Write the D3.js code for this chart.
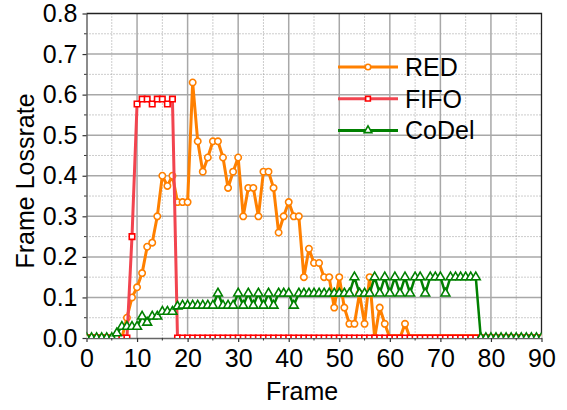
<!DOCTYPE html>
<html lang="en">
<head>
	<meta charset="UTF-8">
	<title>Frame Lossrate</title>
	<script src="https://cdnjs.cloudflare.com/ajax/libs/d3/7.8.5/d3.min.js"></script>
	<style>
		body { margin: 0; background: #fff; }
		text { font-family: "Liberation Sans", Arial, sans-serif; fill: #000; }
	</style>
</head>
<body>
	<svg id="chart"></svg>
	<script>
// frame index 0..90
var frames = d3.range(0, 91)

var redLoss = [
  0, 0, 0, 0, 0, 0, 0, 0, 0.05, 0.10,
  0.125, 0.16, 0.225, 0.235, 0.30, 0.40, 0.375, 0.40, 0.335, 0.335,
  0.335, 0.63, 0.485, 0.41, 0.445, 0.485, 0.485, 0.445, 0.37, 0.41,
  0.445, 0.30, 0.37, 0.37, 0.30, 0.41, 0.41, 0.37, 0.26, 0.30,
  0.335, 0.30, 0.30, 0.15, 0.22, 0.185, 0.185, 0.15, 0.15, 0.075,
  0.15, 0.075, 0.035, 0.035, 0.11, 0.035, 0.15, 0, 0.075, 0.035,
  0, 0, 0, 0.035, 0, 0, 0, 0, 0, 0,
  0, 0, 0, 0, 0, 0, 0, 0, 0, 0,
  0, 0, 0, 0, 0, 0, 0, 0, 0, 0,
  0
]

var fifoLoss = [
  0, 0, 0, 0, 0, 0, 0, 0, 0, 0.25,
  0.577, 0.589, 0.589, 0.577, 0.589, 0.589, 0.577, 0.589, 0, 0,
  0, 0, 0, 0, 0, 0, 0, 0, 0, 0,
  0, 0, 0, 0, 0, 0, 0, 0, 0, 0,
  0, 0, 0, 0, 0, 0, 0, 0, 0, 0,
  0, 0, 0, 0, 0, 0, 0, 0, 0, 0,
  0, 0, 0, 0, 0, 0, 0, 0, 0, 0,
  0, 0, 0, 0, 0, 0, 0, 0, 0, 0,
  0, 0, 0, 0, 0, 0, 0, 0, 0, 0,
  0
]

var codelLoss = [
  0, 0, 0, 0, 0, 0, 0.012, 0.028, 0.028, 0.028,
  0.028, 0.053, 0.038, 0.053, 0.053, 0.065, 0.065, 0.065, 0.078, 0.08,
  0.08, 0.08, 0.08, 0.08, 0.08, 0.08, 0.11, 0.08, 0.08, 0.08,
  0.11, 0.08, 0.11, 0.08, 0.11, 0.08, 0.11, 0.08, 0.11, 0.11,
  0.11, 0.08, 0.11, 0.11, 0.11, 0.11, 0.11, 0.11, 0.11, 0.11,
  0.11, 0.11, 0.11, 0.15, 0.11, 0.11, 0.11, 0.15, 0.11, 0.15,
  0.11, 0.15, 0.11, 0.15, 0.11, 0.15, 0.15, 0.11, 0.15, 0.15,
  0.15, 0.11, 0.15, 0.15, 0.15, 0.15, 0.15, 0.15, 0, 0,
  0, 0, 0, 0, 0, 0, 0, 0, 0, 0,
  0
]

var seriesNames = ["RED", "FIFO", "CoDel"]
var xTicks = [0, 10, 20, 30, 40, 50, 60, 70, 80, 90]
var yTicks = [0, 0.1, 0.2, 0.3, 0.4, 0.5, 0.6, 0.7, 0.8]

var W = 567, H = 410
var pLeft = 86.5, pRight = 541.5, pTop = 13.5, pBottom = 338
var fs = 25

var svg = d3.select("#chart")
  .attr("width", W)
  .attr("height", H)

var x = d3.scaleLinear().domain([0, 90]).range([pLeft, pRight])
var y = d3.scaleLinear().domain([0, 0.8]).range([pBottom, pTop])

// grid: dotted minor, solid major
var minorX = d3.range(5, 90, 10)
var minorY = d3.range(0.05, 0.8, 0.1)

svg.append("g").selectAll("line")
  .data(minorX).enter().append("line")
  .attr("x1", function(d) { return x(d) }).attr("x2", function(d) { return x(d) })
  .attr("y1", pTop).attr("y2", pBottom)
  .attr("stroke", "#9a9a9a").attr("stroke-width", 1).attr("stroke-dasharray", "1,2")

svg.append("g").selectAll("line")
  .data(minorY).enter().append("line")
  .attr("y1", function(d) { return y(d) }).attr("y2", function(d) { return y(d) })
  .attr("x1", pLeft).attr("x2", pRight)
  .attr("stroke", "#9a9a9a").attr("stroke-width", 1).attr("stroke-dasharray", "1,2")

svg.append("g").selectAll("line")
  .data(xTicks.slice(1, -1)).enter().append("line")
  .attr("x1", function(d) { return x(d) }).attr("x2", function(d) { return x(d) })
  .attr("y1", pTop).attr("y2", pBottom)
  .attr("stroke", "#a8a8a8").attr("stroke-width", 1.5)

svg.append("g").selectAll("line")
  .data(yTicks.slice(1, -1)).enter().append("line")
  .attr("y1", function(d) { return y(d) }).attr("y2", function(d) { return y(d) })
  .attr("x1", pLeft).attr("x2", pRight)
  .attr("stroke", "#a8a8a8").attr("stroke-width", 1.5)

// axes
var xAxis = svg.append("g")
  .attr("transform", "translate(0," + pBottom + ")")
  .call(d3.axisBottom(x).tickValues(xTicks).tickSize(4).tickPadding(7).tickSizeOuter(0))
var yAxis = svg.append("g")
  .attr("transform", "translate(" + pLeft + ",0)")
  .call(d3.axisLeft(y).tickValues(yTicks).tickFormat(d3.format(".1f")).tickSize(4).tickPadding(5).tickSizeOuter(0))

;[xAxis, yAxis].forEach(function(a) {
  a.select(".domain").attr("stroke", "#666").attr("stroke-width", 1.5)
  a.selectAll(".tick line").attr("stroke", "#333").attr("stroke-width", 1.2)
  a.selectAll("text").attr("font-size", fs).attr("font-family", "Liberation Sans, Arial, sans-serif")
})

// minor ticks
svg.append("g").selectAll("line")
  .data(minorX).enter().append("line")
  .attr("x1", function(d) { return x(d) }).attr("x2", function(d) { return x(d) })
  .attr("y1", pBottom).attr("y2", pBottom + 2.5)
  .attr("stroke", "#333").attr("stroke-width", 1)
svg.append("g").selectAll("line")
  .data(minorY).enter().append("line")
  .attr("y1", function(d) { return y(d) }).attr("y2", function(d) { return y(d) })
  .attr("x1", pLeft - 2.5).attr("x2", pLeft)
  .attr("stroke", "#333").attr("stroke-width", 1)

// top and right border
svg.append("path")
  .attr("d", "M" + pLeft + "," + pTop + "H" + pRight + "V" + pBottom)
  .attr("fill", "none").attr("stroke", "#222").attr("stroke-width", 1.3)

// series
svg.append("clipPath").attr("id", "plotclip")
  .append("rect").attr("x", pLeft).attr("y", pTop)
  .attr("width", pRight - pLeft).attr("height", pBottom - pTop)

var plot = svg.append("g").attr("clip-path", "url(#plotclip)")

function seriesData(values) {
  return frames.map(function(f, i) { return { f: f, v: values[i] } })
}

var line = d3.line()
  .x(function(d) { return x(d.f) })
  .y(function(d) { return y(d.v) })

var series = [
  { name: seriesNames[0], data: seriesData(redLoss), line: "#ff8000", mark: "#ff8000", width: 3, sym: d3.symbolCircle, size: 32 },
  { name: seriesNames[1], data: seriesData(fifoLoss), line: "#f2444f", mark: "#ff0000", width: 3, sym: d3.symbolSquare, size: 30 },
  { name: seriesNames[2], data: seriesData(codelLoss), line: "#008000", mark: "#008000", width: 2.5, sym: d3.symbolTriangle, size: 34 }
]

series.forEach(function(s) {
  plot.append("path")
    .datum(s.data)
    .attr("d", line)
    .attr("fill", "none")
    .attr("stroke", s.line)
    .attr("stroke-width", s.width)
    .attr("stroke-linejoin", "round")

  plot.append("g").selectAll("path")
    .data(s.data).enter().append("path")
    .attr("d", d3.symbol().type(s.sym).size(s.size))
    .attr("transform", function(d) { return "translate(" + x(d.f) + "," + y(d.v) + ")" })
    .attr("fill", "#fff")
    .attr("stroke", s.mark)
    .attr("stroke-width", 1.6)
})

// legend
var legend = svg.append("g")
series.forEach(function(s, i) {
  var ly = 67 + i * 31.7
  legend.append("line")
    .attr("x1", 338).attr("x2", 398).attr("y1", ly).attr("y2", ly)
    .attr("stroke", s.line).attr("stroke-width", 3)
  legend.append("path")
    .attr("d", d3.symbol().type(s.sym).size(s.size * 0.75))
    .attr("transform", "translate(368," + ly + ")")
    .attr("fill", "#fff").attr("stroke", s.mark).attr("stroke-width", 1.6)
  legend.append("text")
    .attr("x", 405).attr("y", ly + 9)
    .attr("font-size", fs)
    .text(s.name)
})

// axis titles
svg.append("text")
  .attr("x", 302).attr("y", 400)
  .attr("text-anchor", "middle")
  .attr("font-size", fs)
  .text("Frame")

svg.append("text")
  .attr("transform", "translate(34,181) rotate(-90)")
  .attr("text-anchor", "middle")
  .attr("font-size", fs)
  .text("Frame Lossrate")
	</script>
</body>
</html>
